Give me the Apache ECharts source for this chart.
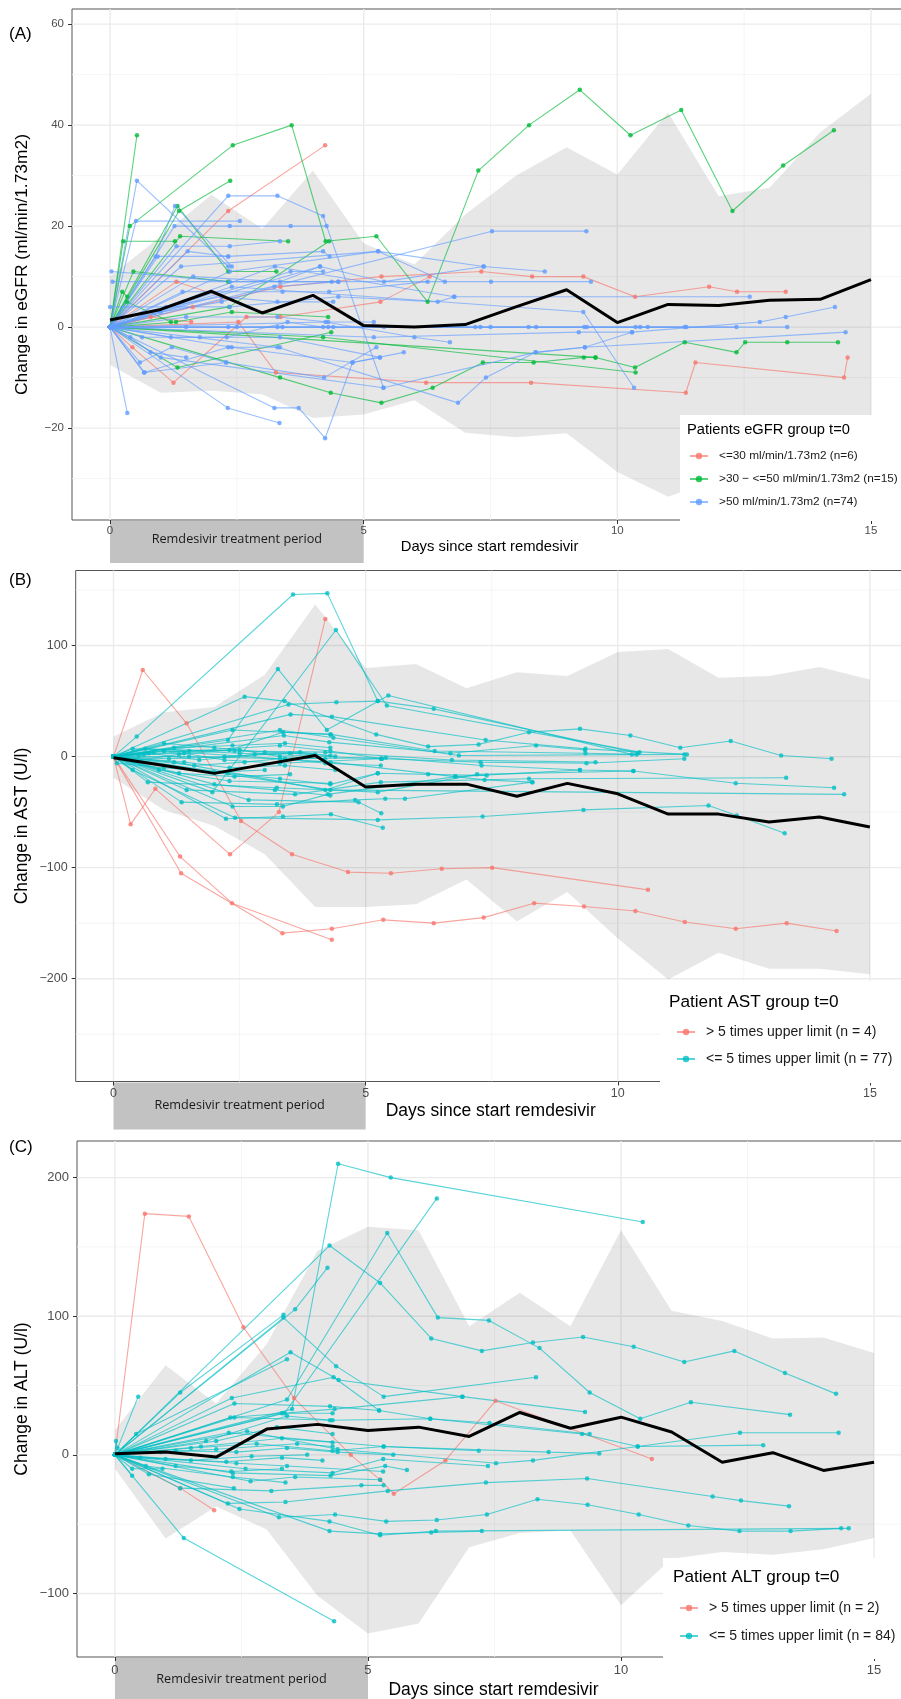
<!DOCTYPE html>
<html>
<head>
<meta charset="utf-8">
<title>Remdesivir: change in eGFR, AST and ALT</title>
<script src="https://cdn.jsdelivr.net/npm/echarts@6/dist/echarts.min.js"></script>
<style>
  html, body { margin: 0; padding: 0; background: #fff; }
  #chart { width: 901px; height: 1699px; }
</style>
</head>
<body>
<div id="chart"></div>
<script>
// ---------- data ----------
const days = [0, 1, 2, 3, 4, 5, 6, 7, 8, 9, 10, 11, 12, 13, 14, 15];
const treatmentPeriod = [0, 5];
const xMajor = [0, 5, 10, 15];
const xMinor = [2.5, 7.5, 12.5];

// (A) eGFR
const egfrYMajor = [-20, 0, 20, 40, 60];
const egfrYMinor = [-30, -10, 10, 30, 50];
const egfrMean = [1.4, 3.5, 7.1, 2.8, 6.3, 0.3, 0, 0.5, 4, 7.4, 0.9, 4.5, 4.3, 5.3, 5.5, 9.4];
const egfrUpper = [10, 18, 26.2, 19.5, 31, 16.6, 12.4, 22.3, 30, 35.6, 30.2, 42.5, 25.9, 27.6, 38.6, 46.2];
const egfrLower = [-7.5, -13, -12.6, -13.3, -18, -17.3, -14.5, -20.9, -21.8, -21, -28.7, -33.6, -30, -27, -24, -20];
const egfrLe30 = [
  [[0, 0], [2.33, 23], [4.24, 36]],
  [[0, 0], [0.44, -4], [1.25, -11], [2.69, 2], [3.36, 2], [5.33, 5], [6.3, 10]],
  [[0, 0], [1.63, 4], [3.36, 8], [5.35, 10], [7.32, 11], [8.32, 10], [9.33, 10], [10.35, 6], [11.81, 8], [12.36, 7], [13.32, 7]],
  [[0, 0], [2.53, 1], [3.27, -9], [6.23, -11], [8.3, -11], [11.35, -13], [11.54, -7], [14.47, -10], [14.54, -6]],
  [[0, 0], [1.31, 9], [2.2, 6]],
  [[0, 0], [0.8, 2], [1.6, 1]]
];
const egfr30to50 = [
  [[0, 0], [0.53, 38]],
  [[0, 0], [0.39, 20], [2.42, 36], [3.58, 40], [4.25, 17], [5.25, 18], [6.26, 5], [7.26, 31], [8.26, 40], [9.26, 47], [10.26, 38], [11.26, 43], [12.27, 23], [13.27, 32], [14.27, 39]],
  [[0, 0], [1.36, 23], [2.37, 29]],
  [[0, 0], [1.33, 24], [2.33, 11], [3.28, 11]],
  [[0, 0], [1.38, 18], [3.51, 17]],
  [[0, 0], [0.26, 17], [1.28, 17]],
  [[0, 0], [0.46, 11], [2.33, 9]],
  [[0, 0], [0.24, 7], [0.34, 6]],
  [[0, 0], [0.33, 5], [1.2, 1]],
  [[0, 0], [1.33, -8], [4.36, -1]],
  [[0, 0], [3.35, -10], [4.35, -13], [5.35, -15], [6.36, -12], [7.35, -7], [8.35, -7], [9.34, -6], [9.57, -6]],
  [[0, 0], [9.57, -6], [10.35, -8], [11.33, -3], [12.35, -5], [12.52, -3], [13.35, -3], [14.35, -3]],
  [[0, 0], [4.2, -2], [10.36, -9]],
  [[0, 0], [2.35, 4], [4.32, 17]],
  [[0, 0], [1.3, 1], [2.4, 3], [4.3, 2]]
];
const egfrGt50 = [
  [[0, 0], [0.53, 29], [2.33, 12]],
  [[0, 0], [2.33, 26], [3.3, 26], [4.2, 22], [5.39, -12]],
  [[0, 0], [0.51, 21], [2.56, 21]],
  [[0, 0], [1.27, 20], [2.36, 20], [3.56, 20], [4.27, 20]],
  [[0, 0], [1.31, 16], [2.36, 16], [3.35, 17]],
  [[0, 0], [1.53, 15], [2.33, 14], [4.2, 15], [4.33, 14]],
  [[0.03, 11], [2.36, 9], [4.37, 9], [4.5, 9]],
  [[0.05, 9], [7.51, 9], [9.48, 9]],
  [[0, 0], [1.4, 12], [5.29, 15], [7.36, 12], [8.57, 11]],
  [[0, 0], [7.53, 19], [9.39, 19]],
  [[0, 0], [3.25, 12], [6.78, 6], [12.61, 6]],
  [[0, 0], [2.33, 0], [4.4, 0], [7.2, 0], [8.25, 0], [10.36, 0], [12.35, 0]],
  [[0, 0], [1.5, 0], [3.4, 0], [5.4, 0], [7.3, 0], [9.35, 0], [11.33, 0], [13.35, 0]],
  [[0, 0], [2.5, 0], [3.3, 0], [4.3, 0], [7.5, 0], [8.4, 0], [9.4, 0], [10.45, 0], [10.6, 0], [11.36, 0]],
  [[0, 0], [5.2, -2], [9.24, -1], [10.29, -1], [12.81, 1], [13.32, 2], [14.29, 4]],
  [[0, 0], [1.0, -6], [5.39, -12], [8.39, -5], [9.36, -4], [14.5, -1]],
  [[0, 0], [2.4, 8], [9.33, 3], [10.33, -12]],
  [[0, 0], [2.32, -16], [3.34, -19]],
  [[0, 0], [3.24, -16], [3.72, -16], [4.24, -22], [4.78, -7], [5.79, -5]],
  [[0, 0], [0.34, -17]],
  [[0, 0], [0.67, -9], [2.33, -4], [3.35, -4]],
  [[0, 0], [0.59, -7], [1.22, -4], [2.29, -7]],
  [[0, 0], [3.3, -4], [6.86, -15], [7.41, -10], [8.39, -5], [9.36, -4], [10.29, -1]],
  [[0, 0], [2.36, 11], [5.28, 15], [6.6, 9]],
  [[0, 0], [1.64, 10], [3.35, 9], [4.14, 12]],
  [[0, 0], [1.43, 7], [3.4, 7], [4.32, 7], [6.26, 9]],
  [[0, 4], [2.36, 4], [4.5, 6], [6.46, 5], [6.79, 6]],
  [[0, 0], [0.63, -2], [1.77, -2], [3.35, -2], [5.32, -6]],
  [[0, 0], [0.68, -9], [2.29, -7], [4.22, -10], [5.25, -4]],
  [[0, 0], [1.0, 3], [2.2, 5], [3.24, 8], [4.5, 9]],
  [[0, 0], [0.9, 14], [1.28, 24], [2.4, 12]],
  [[0, 0], [0.94, 14], [2.33, 14]],
  [[0, 0], [4.14, 12], [5.4, 9], [7.37, 12]],
  [[0, 0], [2.4, -4], [4.78, -7], [5.32, -6]],
  [[0, 0], [1.5, 2], [3.3, 2], [4.3, 1], [5.2, 1]],
  [[0, 0], [4.25, 1], [6.0, -2], [6.7, -3]],
  [[0, 0], [1.2, -2], [2.3, -2], [3.5, 1], [4.2, 0]],
  [[0, 0], [1.1, 4], [2.2, 6], [3.3, 5], [4.4, 5]],
  [[0, 0], [0.4, -2], [0.8, -5], [1.5, -6]],
  [[0, 0], [3.56, 11], [4.2, 11]]
];

// (B) AST
const astYMajor = [-200, -100, 0, 100];
const astYMinor = [-250, -150, -50, 50, 150];
const astMean = [-1, -8, -15.1, -7, 1, -27.4, -24.8, -24.8, -35.7, -24.1, -33.5, -51.8, -51.8, -58.9, -54.4, -63.4];
const astUpper = [18, 40, 44.7, 73.7, 137, 79.8, 83.4, 61.5, 76, 72.7, 94.3, 96.9, 71, 72.7, 80.8, 69.5];
const astLower = [-19, -48, -62.4, -88, -135.5, -135.5, -133, -110.7, -148.4, -122, -163.8, -200.8, -176.7, -191, -191, -196];
const astGt5 = [
  [[0, 0], [0.58, 78], [1.45, 30], [2.53, -58], [3.54, -88], [4.65, -104], [5.5, -105], [6.51, -101], [7.51, -100], [10.6, -120]],
  [[0, 0], [0.34, -61], [0.83, -29], [2.31, -88], [3.28, -50], [4.2, 124]],
  [[0, 0], [1.32, -90], [2.35, -132], [4.33, -165]],
  [[0, 0], [1.34, -105], [3.35, -159], [4.33, -155], [5.35, -147], [6.35, -150], [7.34, -145], [8.34, -132], [9.33, -135], [10.35, -139], [11.33, -149], [12.34, -155], [13.35, -150], [14.34, -157]]
];
const astLe5 = [
  [[0, 0], [0.46, 18], [3.56, 146], [4.24, 147], [5.24, 50], [6.35, 43], [10.4, 3]],
  [[0, 0], [2.27, 15], [3.26, 79], [4.23, 24], [5.45, 55], [10.28, 2]],
  [[0, 0], [1.96, -32], [4.41, 114], [5.42, 46], [10.43, 4]],
  [[0, 0], [2.6, 54], [3.39, 50], [5.21, 20], [6.24, 9], [7.24, 11], [8.24, 22], [9.25, 25], [10.25, 19], [11.24, 8], [12.24, 14], [13.24, 1], [14.24, -2]],
  [[0, 0], [3.47, 47], [4.42, 49], [5.24, 50]],
  [[0, 0], [3.51, 38], [4.33, 36], [7.38, 15], [9.36, 7], [11.37, 2]],
  [[0, 0], [2.36, 24], [4.31, 20], [6.37, 5], [9.36, 3], [10.37, 2]],
  [[0, 0], [3.3, 24], [4.36, 17], [6.85, 1], [11.32, 2]],
  [[0, 0], [3.38, 19], [4.28, 13], [6.68, 3], [8.38, 10], [9.35, 6]],
  [[0, 0], [0.38, 7], [2.4, 5], [4.2, 4], [6.71, -3], [9.56, -5]],
  [[0, 0], [0.63, 7], [2.5, 3], [5.32, -2], [7.28, -5], [9.38, -6], [11.32, -2]],
  [[0, 0], [1.5, 0], [3.4, -2], [5.4, -1], [7.3, -8], [9.25, -12], [10.31, -13]],
  [[0, 0], [0.38, -12], [2.41, -55], [5.24, -57], [7.32, -54], [9.32, -48], [11.8, -44], [12.36, -53], [13.31, -69]],
  [[0, 0], [0.68, -23], [3.24, -28], [5.24, -32], [7.21, -16], [10.31, -13], [12.34, -24], [14.29, -28]],
  [[0, 0], [1.45, -30], [3.6, -34], [5.3, -23], [8.24, -20], [13.34, -19]],
  [[0, 0], [1.35, -41], [3.24, -43], [4.79, -39], [5.39, -38], [5.78, -38], [8.3, -23]],
  [[0, 0], [2.23, -56], [3.36, -54], [4.31, -52], [5.34, -64]],
  [[0, 0], [2.68, -39], [4.86, -41], [5.31, -51]],
  [[0, 0], [1.2, -5], [4.2, -30], [5.24, -15], [6.24, -16], [7.4, -17]],
  [[0, 0], [2.36, -45], [3.36, -45], [4.25, -34], [6.79, -18], [9.25, -12]],
  [[0, 0], [1.0, 5], [4.3, -5], [6.77, -18], [7.36, -21], [8.31, -23]],
  [[0, 0], [4.3, -30], [14.49, -34]],
  [[0, 0], [1.2, 8], [2.36, 10], [3.4, 12], [4.3, 8]],
  [[0, 0], [0.8, 4], [2.5, 6], [3.3, 0], [4.2, -2]],
  [[0, 0], [1.4, -5], [2.3, -10], [3.4, -8], [4.4, -12]],
  [[0, 0], [0.6, 2], [1.4, 3], [2.2, -3], [3.3, -6], [5.3, -2]],
  [[0, 0], [1.3, -15], [2.4, -18], [3.5, -16]],
  [[0, 0], [0.9, -12], [2.3, -22], [4.3, -24]],
  [[0, 0], [0.5, 1], [1.5, 5], [3.3, 10], [4.3, 5], [5.32, -2]],
  [[0, 0], [1.1, -2], [2.2, 0], [3.5, 3], [4.3, 1]],
  [[0, 0], [0.07, -6], [1.0, -10], [2.0, -14], [3.0, -12]],
  [[0, 0], [0.38, -4], [1.3, 2], [2.3, 6], [3.36, 22], [4.3, 20]],
  [[0, 0], [2.27, -15], [3.3, -20], [4.3, -25], [5.24, -15]],
  [[0, 0], [1.6, -8], [2.6, -5], [3.3, -2], [4.2, -6], [5.3, -8]],
  [[0, 0], [0.7, 3], [1.7, -3], [2.8, 2], [3.7, 4], [4.4, 0]],
  [[0, 0], [1.0, 12], [2.0, 8], [3.0, 4], [4.0, 2]],
  [[0, 0], [2.0, -25], [3.2, -30], [4.3, -35]]
];

// (C) ALT
const altYMajor = [-100, 0, 100, 200];
const altYMinor = [-50, 50, 150];
const altMean = [0.8, 2.1, -1.6, 18.6, 22, 17.6, 20, 13.3, 30.6, 19.2, 27.2, 16.5, -5.3, 1.6, -11.2, -5.3];
const altUpper = [18, 64.6, 37, 80, 147, 164.5, 162, 92.7, 117, 92.7, 162, 104, 96.6, 84, 84.7, 73.5];
const altLower = [-10, -60.4, -37.3, -53.8, -101.7, -128.9, -121.7, -66.6, -56.4, -54.6, -108.4, -75, -70, -72, -68, -60];
const altGt5 = [
  [[0, 0], [0.59, 174], [1.46, 172], [2.54, 92], [3.54, 41], [4.66, 0], [5.24, -18], [5.51, -28], [6.53, -4], [7.52, 39], [10.61, -3]],
  [[0, 0], [1.29, -24], [1.96, -40]]
];
const altLe5 = [
  [[0, 0], [3.5, 33], [4.41, 210], [5.45, 200], [10.43, 168]],
  [[0, 0], [3.35, 30], [6.36, 185]],
  [[0, 0], [4.24, 151], [5.24, 124], [6.25, 84], [7.25, 75], [8.26, 81], [9.25, 85], [10.25, 78], [11.25, 67], [12.24, 75], [13.24, 59], [14.25, 44]],
  [[0, 0], [3.4, 40], [5.38, 160], [6.38, 99], [7.39, 97], [8.39, 77], [9.38, 45], [10.38, 26], [11.38, 38], [13.34, 29]],
  [[0, 0], [3.56, 105], [4.2, 135]],
  [[0, 0], [1.29, 45], [3.33, 101]],
  [[0, 0], [3.33, 99], [4.37, 64], [5.31, 42], [8.32, 56]],
  [[0, 0], [3.47, 74], [4.42, 54], [6.87, 42], [9.29, 31]],
  [[0, 0], [0.46, 42]],
  [[0, 0], [0.42, 15], [3.4, 69]],
  [[0, 0], [2.31, 41], [4.32, 56], [5.22, 32], [6.23, 26], [7.4, 23], [9.38, 15]],
  [[0, 0], [2.36, 37], [4.25, 35], [5.22, 32]],
  [[0, 0], [2.28, 27], [4.34, 33], [6.86, 42]],
  [[0, 0], [2.36, 27], [4.3, 25], [6.23, 26], [9.23, 15], [10.33, 6], [12.35, 16], [14.3, 16]],
  [[0, 0], [2.25, 16], [5.31, 6], [8.57, 2], [9.57, 1]],
  [[0, 0], [2.61, 17], [4.4, 4], [7.53, -6], [8.26, -4], [10.33, 6], [12.81, 7]],
  [[0, 0], [1.36, -60], [4.33, -120]],
  [[0, 0], [3.24, -45], [4.35, -43], [5.36, -48], [6.36, -47], [7.35, -43], [8.35, -32], [9.34, -36], [10.35, -43], [11.33, -51], [12.34, -55], [13.35, -55], [14.35, -53]],
  [[0, 0], [4.24, -55], [5.24, -57], [6.25, -56], [7.25, -55]],
  [[0, 0], [2.46, -39], [4.24, -48], [5.24, -58], [6.34, -55], [14.5, -53]],
  [[0, 0], [2.23, -35], [3.37, -34], [5.39, -26], [7.33, -20], [9.33, -17], [11.81, -30], [12.37, -33], [13.32, -37]],
  [[0, 0], [1.29, -24], [3.09, -26], [4.87, -22], [5.31, -22]],
  [[0, 0], [2.68, -19], [3.56, -16], [5.24, -18]],
  [[0, 0], [2.33, -13], [4.26, -15], [5.34, -8], [5.77, -11]],
  [[0, 0], [2.58, -10], [4.3, -13], [5.3, -3], [7.37, -8]],
  [[0, 0], [0.61, -8], [2.33, -16], [3.37, -20]],
  [[0, 0], [0.67, -14], [2.35, -24]],
  [[0, 0], [0.34, -10], [0.94, -10]],
  [[0, 0], [0.34, -15]],
  [[0, 0], [1.5, 5], [2.8, 8], [4.3, 3], [5.31, 6], [7.19, 3]],
  [[0, 0], [1.2, 3], [2.4, 2], [3.4, 5], [4.4, 2], [5.5, 0]],
  [[0, 0], [1.0, -3], [2.2, -5], [3.3, -2], [4.1, -4]],
  [[0, 0], [1.7, 6], [3.3, 12], [4.3, 9]],
  [[0, 0], [2.4, -6], [3.4, -8], [5.3, -12]],
  [[0, 0], [1.8, 10], [3.4, 28], [4.25, 25]],
  [[0, 0], [3.3, 30], [4.3, 30]],
  [[0, 0], [0.02, 10], [0.05, 5]],
  [[0, 0], [0.9, 2], [2.0, 4], [3.6, 8], [4.3, 6]],
  [[0, 0], [0.5, -2], [1.5, -4], [2.7, -1], [3.8, 0]],
  [[0, 0], [2.0, 10], [3.2, 20], [4.3, 15]],
  [[0, 0], [1.2, -8], [2.3, -12], [3.3, -10]]
];

// ---------- layout ----------
const FONT = '"Liberation Sans", Arial, sans-serif';
const RED = '#F8766D', GREEN = '#00BA38', BLUE = '#619CFF', CYAN = '#00BFC4';
const X_MIN = -0.75, X_MAX = 15.75;

const panels = [
  {
    tag: '(A)', tagY: 34, yTitle: 'Change in eGFR (ml/min/1.73m2)', yTitleFont: 17.4,
    grid: { left: 72, top: 9, width: 837, height: 511 },
    yMin: -38.2, yMax: 63, yMajor: egfrYMajor, yMinor: egfrYMinor,
    mean: egfrMean, upper: egfrUpper, lower: egfrLower,
    groups: [
      { name: '<=30 ml/min/1.73m2 (n=6)', color: RED, lines: egfrLe30 },
      { name: '>30 \u2212 <=50 ml/min/1.73m2 (n=15)', color: GREEN, lines: egfr30to50 },
      { name: '>50 ml/min/1.73m2 (n=74)', color: BLUE, lines: egfrGt50 }
    ],
    tickFont: 11.5, xMargin: 5, boxH: 42, boxTextDy: 19, xTitleY: 546.5, xTitleFont: 14.8,
    legend: { box: [680, 415, 230, 106], title: 'Patients eGFR group t=0', titleX: 687, titleY: 430, titleFont: 14.7,
              left: 689, top: 449, font: 11.8, lineH: 14, gap: 9 }
  },
  {
    tag: '(B)', tagY: 580, yTitle: 'Change in AST (U/l)', yTitleFont: 17.5,
    grid: { left: 75.7, top: 570.5, width: 832, height: 511 },
    yMin: -292.6, yMax: 167.6, yMajor: astYMajor, yMinor: astYMinor,
    mean: astMean, upper: astUpper, lower: astLower,
    groups: [
      { name: '> 5 times upper limit (n = 4)', color: RED, lines: astGt5 },
      { name: '<= 5 times upper limit (n = 77)', color: CYAN, lines: astLe5 }
    ],
    tickFont: 12.5, xMargin: 6, boxH: 47, boxTextDy: 24, xTitleY: 1111, xTitleFont: 17.5,
    legend: { box: [660, 981, 250, 102], title: 'Patient AST group t=0', titleX: 669, titleY: 1002, titleFont: 17.2,
              left: 676, top: 1024, font: 14, lineH: 16, gap: 11 }
  },
  {
    tag: '(C)', tagY: 1147, yTitle: 'Change in ALT (U/l)', yTitleFont: 17.5,
    grid: { left: 77, top: 1141, width: 835, height: 516 },
    yMin: -145.8, yMax: 226.4, yMajor: altYMajor, yMinor: altYMinor,
    mean: altMean, upper: altUpper, lower: altLower,
    groups: [
      { name: '> 5 times upper limit (n = 2)', color: RED, lines: altGt5 },
      { name: '<= 5 times upper limit (n = 84)', color: CYAN, lines: altLe5 }
    ],
    tickFont: 13, xMargin: 7, boxH: 60, boxTextDy: 22, xTitleY: 1690, xTitleFont: 17.5,
    legend: { box: [663, 1558, 250, 101], title: 'Patient ALT group t=0', titleX: 673, titleY: 1577, titleFont: 17.2,
              left: 679, top: 1600, font: 14, lineH: 16, gap: 12 }
  }
];

const minus = v => String(v).replace('-', '\u2212');

// grid lines drawn through the axes' own scale
function gridLines(p) {
  return function (params, api) {
    const children = [];
    const seg = (a, b, color, w) => children.push({
      type: 'line', shape: { x1: a[0], y1: a[1], x2: b[0], y2: b[1] },
      style: { stroke: color, lineWidth: w }
    });
    xMinor.forEach(v => seg(api.coord([v, p.yMin]), api.coord([v, p.yMax]), '#F3F3F3', 0.8));
    p.yMinor.forEach(v => seg(api.coord([X_MIN, v]), api.coord([X_MAX, v]), '#F3F3F3', 0.8));
    xMajor.forEach(v => seg(api.coord([v, p.yMin]), api.coord([v, p.yMax]), '#EBEBEB', 1.4));
    p.yMajor.forEach(v => seg(api.coord([X_MIN, v]), api.coord([X_MAX, v]), '#EBEBEB', 1.4));
    return { type: 'group', children: children, silent: true };
  };
}

function band(p) {
  return function (params, api) {
    const pts = days.map((d, i) => api.coord([d, p.upper[i]]));
    for (let i = days.length - 1; i >= 0; i--) pts.push(api.coord([days[i], p.lower[i]]));
    return { type: 'polygon', shape: { points: pts }, style: { fill: 'rgba(0,0,0,0.095)' }, silent: true };
  };
}

function periodBox(p) {
  return function (params, api) {
    const a = api.coord([api.value(0), p.yMin]);
    const b = api.coord([api.value(2), p.yMin]);
    return {
      type: 'group', children: [
        { type: 'rect', shape: { x: a[0], y: a[1] + 1, width: b[0] - a[0], height: p.boxH }, style: { fill: '#C2C2C2' } },
        { type: 'text', style: { text: 'Remdesivir treatment period', x: (a[0] + b[0]) / 2, y: a[1] + p.boxTextDy,
          align: 'center', verticalAlign: 'middle', font: '12.7px "Open Sans", sans-serif', fill: '#1a1a1a' } }
      ]
    };
  };
}

const series = [];
const graphics = [];
const legends = [];

panels.forEach((p, i) => {
  const axes = { xAxisIndex: i, yAxisIndex: i };
  series.push({ type: 'custom', ...axes, z: 1, silent: true, data: [[0, 0]], encode: { x: 0, y: 1 }, renderItem: gridLines(p) });
  series.push({ type: 'custom', ...axes, z: 2, silent: true, data: [[0, 0]], encode: { x: 0, y: 1 }, renderItem: band(p) });
  series.push({ type: 'custom', ...axes, z: 1, silent: true, clip: false,
    data: [[treatmentPeriod[0], 0, treatmentPeriod[1]]], encode: { x: 0, y: 1 }, renderItem: periodBox(p) });

  p.groups.forEach(g => {
    g.lines.forEach(pts => {
      series.push({
        type: 'line', name: g.name, ...axes, z: 3, silent: true, data: pts,
        symbol: 'circle', symbolSize: 4.5, showSymbol: true,
        lineStyle: { color: g.color, width: 1.1, opacity: 0.65 },
        itemStyle: { color: g.color, opacity: 0.8 },
        emphasis: { disabled: true }
      });
    });
  });

  series.push({
    type: 'line', name: 'mean', ...axes, z: 4, silent: true,
    data: days.map((d, k) => [d, p.mean[k]]), symbol: 'none',
    lineStyle: { color: '#000', width: 3 }, emphasis: { disabled: true }
  });

  const L = p.legend;
  graphics.push({ type: 'rect', z: 10, silent: true, shape: { x: L.box[0], y: L.box[1], width: L.box[2], height: L.box[3] }, style: { fill: '#fff' } });
  graphics.push({ type: 'text', z: 12, silent: true, style: { text: L.title, x: L.titleX, y: L.titleY, verticalAlign: 'middle',
    font: L.titleFont + 'px ' + FONT, fill: '#000' } });
  graphics.push({ type: 'text', z: 12, silent: true, style: { text: p.tag, x: 9, y: p.tagY, verticalAlign: 'middle',
    font: '17px ' + FONT, fill: '#000' } });
  graphics.push({ type: 'text', z: 12, silent: true, rotation: Math.PI / 2, x: 22, y: p.grid.top + p.grid.height / 2,
    style: { text: p.yTitle, x: 0, y: 0, align: 'center', verticalAlign: 'middle', font: p.yTitleFont + 'px ' + FONT, fill: '#000' } });
  graphics.push({ type: 'text', z: 12, silent: true, style: { text: 'Days since start remdesivir',
    x: p.grid.left + p.grid.width / 2 - 1, y: p.xTitleY, align: 'center', verticalAlign: 'middle',
    font: p.xTitleFont + 'px ' + FONT, fill: '#000' } });

  legends.push({
    data: p.groups.map(g => g.name), orient: 'vertical', left: L.left, top: L.top,
    padding: 0, itemWidth: 18, itemHeight: 8, itemGap: L.gap, z: 12, selectedMode: false,
    textStyle: { fontSize: L.font, lineHeight: L.lineH, color: '#1a1a1a', fontFamily: FONT, padding: [0, 0, 0, 6] }
  });
});

const chart = echarts.init(document.getElementById('chart'), null, { renderer: 'canvas' });
chart.setOption({
  animation: false,
  backgroundColor: '#fff',
  grid: panels.map(p => ({ ...p.grid, show: true, borderColor: '#555', borderWidth: 1,
    backgroundColor: 'transparent', containLabel: false, outerBoundsMode: 'none' })),
  xAxis: panels.map((p, i) => ({
    type: 'value', gridIndex: i, min: X_MIN, max: X_MAX, z: 5,
    axisLine: { show: false, onZero: false },
    axisTick: { show: true, length: 4, customValues: xMajor, lineStyle: { color: '#333' } },
    axisLabel: { customValues: xMajor, margin: p.xMargin, fontSize: p.tickFont, color: '#4D4D4D', fontFamily: FONT },
    splitLine: { show: false }
  })),
  yAxis: panels.map((p, i) => ({
    type: 'value', gridIndex: i, min: p.yMin, max: p.yMax, z: 5,
    axisLine: { show: false, onZero: false },
    axisTick: { show: true, length: 4, customValues: p.yMajor, lineStyle: { color: '#333' } },
    axisLabel: { customValues: p.yMajor, margin: 8, fontSize: p.tickFont, color: '#4D4D4D', fontFamily: FONT, formatter: minus },
    splitLine: { show: false }
  })),
  legend: legends,
  graphic: { elements: graphics },
  series: series
});
</script>
</body>
</html>
